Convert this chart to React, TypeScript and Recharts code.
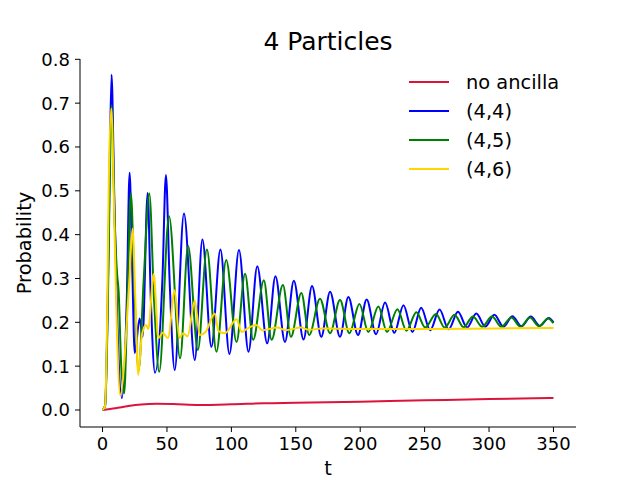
import React from "react";
import { Legend, Line, LineChart, XAxis, YAxis } from "recharts";

// peaks / troughs, drawn with a monotone curve
const noAncilla = [
  [0, 0], [10, 0.004], [20, 0.009], [30, 0.0125], [42, 0.014], [55, 0.0135], [75, 0.0115],
  [100, 0.013], [125, 0.0155], [150, 0.0165], [200, 0.019], [250, 0.022], [300, 0.025], [350, 0.0275],
];

const p44 = [
  [0, 0], [2, 0.01], [4, 0.25], [5.5, 0.55], [7, 0.765], [9, 0.5], [11.5, 0.2], [15, 0.027],
  [18.8, 0.25], [21, 0.541], [23, 0.33], [25, 0.13], [28.8, 0.209], [31.1, 0.167], [35, 0.495],
  [37.5, 0.25], [40.7, 0.085], [46.5, 0.3], [49.2, 0.536], [52, 0.3], [56, 0.091], [63.2, 0.448],
  [71.6, 0.114], [77.5, 0.389], [84.5, 0.144], [91.5, 0.366], [98.5, 0.128], [105.9, 0.365],
  [113.3, 0.133], [120.1, 0.328], [127.8, 0.152], [134.2, 0.305], [141.6, 0.155], [148.5, 0.295],
  [156, 0.161], [162.6, 0.283], [169.8, 0.167], [176.6, 0.27], [184.3, 0.167], [190.8, 0.258],
  [198.3, 0.171], [205, 0.252], [212.3, 0.173], [219.3, 0.245], [226.5, 0.176], [233.6, 0.239],
  [240.5, 0.178], [247.3, 0.233], [254.3, 0.182], [261.6, 0.229], [268.6, 0.184], [275.9, 0.224],
  [282.9, 0.188], [290.1, 0.22], [297.1, 0.19], [304.1, 0.217], [311.2, 0.19], [318.1, 0.214],
  [325.2, 0.191], [332.4, 0.213], [339.4, 0.192], [346.4, 0.21], [350, 0.2],
];

const p45 = [
  [0, 0], [2, 0.01], [4, 0.22], [5.5, 0.5], [7, 0.695], [9.5, 0.42], [11.3, 0.31], [12.5, 0.27],
  [14.5, 0.1], [16.8, 0.038], [19.5, 0.28], [22, 0.494], [25, 0.25], [28, 0.09], [32, 0.3],
  [36.3, 0.494], [40, 0.25], [44, 0.087], [51.6, 0.442], [60.2, 0.118], [66.4, 0.374], [74, 0.137],
  [81, 0.366], [88.4, 0.133], [96, 0.342], [104, 0.155], [110.6, 0.311], [116.9, 0.16], [125.2, 0.296],
  [131.2, 0.16], [140, 0.285], [146.2, 0.167], [154.3, 0.267], [160.4, 0.171], [168.8, 0.254],
  [176.6, 0.175], [184.3, 0.251], [191.6, 0.175], [199.4, 0.242], [206.3, 0.178], [214.1, 0.236],
  [220.8, 0.178], [228.9, 0.23], [235.9, 0.181], [243.6, 0.223], [250.4, 0.188], [258.8, 0.219],
  [265.6, 0.188], [273.2, 0.217], [280.2, 0.189], [287.5, 0.213], [294.7, 0.19], [302.3, 0.213],
  [309.6, 0.19], [317.3, 0.211], [324.4, 0.19], [331.8, 0.211], [338.8, 0.191], [345.8, 0.209],
  [350, 0.198],
];

const p46 = [
  [0, 0], [2, 0.01], [3.5, 0.2], [5, 0.55], [6.8, 0.688], [9, 0.45], [11, 0.2], [13.7, 0.034],
  [20.7, 0.29], [23.3, 0.414], [25.5, 0.25], [27.7, 0.08], [30.5, 0.17], [33.7, 0.194], [35.5, 0.185],
  [39.7, 0.31], [43.4, 0.164], [46.7, 0.176], [50.8, 0.164], [56, 0.273], [59.6, 0.164], [62.5, 0.175],
  [66, 0.168], [71.6, 0.25], [75.4, 0.171], [80, 0.178], [87.1, 0.22], [90, 0.18], [95, 0.175],
  [104, 0.207], [108, 0.178], [112, 0.185], [119.2, 0.194], [124, 0.182], [136, 0.188], [142, 0.182],
  [154, 0.188], [160, 0.183], [170, 0.186], [200, 0.185], [250, 0.185], [300, 0.186], [350, 0.187],
];

const xTicks = [0, 50, 100, 150, 200, 250, 300, 350];
const yTicks = [0, 0.1, 0.2, 0.3, 0.4, 0.5, 0.6, 0.7, 0.8];

const SERIES = [
  { name: "no ancilla", color: "#dc143c", pts: noAncilla },
  { name: "(4,4)", color: "#0000ff", pts: p44 },
  { name: "(4,5)", color: "#008000", pts: p45 },
  { name: "(4,6)", color: "#ffd700", pts: p46 },
];

const FONT = "DejaVu Sans, sans-serif";
const TICK = { fill: "#000", fontSize: 18, fontFamily: FONT } as const;
const LABEL_SIZE = 19.4;

// legend keeps the plotting order (recharts would sort it by name)
const LegendBox = () => (
  <svg width={200} height={120}>
    {SERIES.map((s, i) => (
      <g key={s.name}>
        <line x1={9} x2={49} y1={20 + i * 29} y2={20 + i * 29} stroke={s.color} strokeWidth={2} />
        <text x={66} y={27 + i * 29} fontSize={LABEL_SIZE} fontFamily={FONT} fill="#000">
          {s.name}
        </text>
      </g>
    ))}
  </svg>
);

export default function App() {
  return (
    <div style={{ position: "absolute", left: 0, top: 0, width: 640, height: 480, background: "#fff" }}>
      <LineChart width={640} height={480} margin={{ top: 59, right: 64, bottom: 0, left: 0 }}>
        <XAxis
          type="number"
          dataKey="t"
          domain={[-17.5, 367.5]}
          ticks={xTicks}
          allowDataOverflow
          height={53}
          tickSize={5}
          tickMargin={5}
          tick={TICK}
          stroke="#000"
          interval={0}
        />
        <YAxis
          type="number"
          domain={[-0.0388, 0.8007]}
          ticks={yTicks}
          allowDataOverflow
          width={80}
          tickSize={5}
          tickMargin={5}
          tick={TICK}
          stroke="#000"
          interval={0}
          tickFormatter={(v: number) => v.toFixed(1)}
        />
        <Legend
          layout="vertical"
          align="center"
          verticalAlign="middle"
          content={<LegendBox />}
          wrapperStyle={{ left: 400, top: 62, width: 200, height: 120 }}
        />
        {SERIES.map((s) => (
          <Line
            key={s.name}
            name={s.name}
            data={s.pts.map(([t, p]) => ({ t, p }))}
            dataKey="p"
            type="monotone"
            stroke={s.color}
            strokeWidth={2}
            dot={false}
            activeDot={false}
            isAnimationActive={false}
          />
        ))}
      </LineChart>
      <svg
        width={640}
        height={480}
        style={{ position: "absolute", left: 0, top: 0, pointerEvents: "none" }}
        fontFamily={FONT}
      >
        <text x={328} y={49.5} fontSize={25} textAnchor="middle" fill="#000">
          4 Particles
        </text>
        <text x={328} y={475} fontSize={LABEL_SIZE} textAnchor="middle" fill="#000">
          t
        </text>
        <text x={31} y={243} fontSize={LABEL_SIZE} textAnchor="middle" fill="#000" transform="rotate(-90, 31, 243)">
          Probability
        </text>
      </svg>
    </div>
  );
}
